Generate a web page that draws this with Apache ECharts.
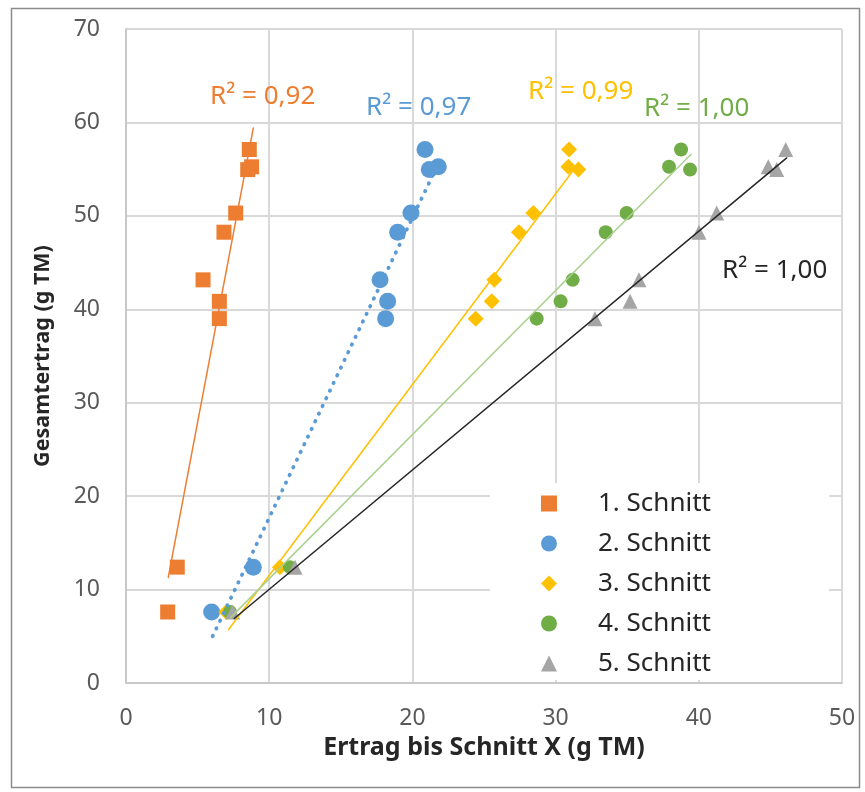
<!DOCTYPE html>
<html>
<head>
<meta charset="utf-8">
<script src="https://cdn.jsdelivr.net/npm/echarts@6/dist/echarts.min.js"></script>
<style>
html,body{margin:0;padding:0;background:#fff;}
#c{width:865px;height:792px;}
</style>
</head>
<body>
<div id="c"></div>
<script>
// ---- data ----
const seriesNames = ['1. Schnitt', '2. Schnitt', '3. Schnitt', '4. Schnitt', '5. Schnitt'];
// Gesamtertrag (g TM) – y values, shared by all cuts
const gesamtertrag = [57.1, 55.25, 54.95, 50.3, 48.25, 43.15, 40.85, 39.0, 12.4, 7.6];
// Ertrag bis Schnitt X (g TM) – x values per cut
const schnitt1 = [8.61, 8.77, 8.50, 7.66, 6.84, 5.38, 6.52, 6.52, 3.58, 2.91];
const schnitt2 = [20.88, 21.81, 21.18, 19.90, 18.97, 17.74, 18.27, 18.13, 8.89, 5.98];
const schnitt3 = [30.94, 30.89, 31.59, 28.45, 27.44, 25.72, 25.54, 24.42, 10.75, 7.0];
const schnitt4 = [38.76, 37.92, 39.39, 34.96, 33.50, 31.19, 30.35, 28.68, 11.45, 7.26];
const schnitt5 = [46.07, 44.85, 45.44, 41.25, 40.01, 35.82, 35.20, 32.75, 11.8, 7.45];
// linear trend lines (start/end points as read)
const trend1x = [2.95, 8.89],  trend1y = [11.3, 59.4];
const trend2x = [6.05, 21.81], trend2y = [5.0, 55.6];
const trend3x = [7.15, 31.59], trend3y = [5.7, 55.6];
const trend4x = [7.3, 39.46],  trend4y = [7.0, 56.6];
const trend5x = [7.56, 46.14], trend5y = [6.9, 56.2];
const r2Labels = ['R² = 0,92', 'R² = 0,97', 'R² = 0,99', 'R² = 1,00', 'R² = 1,00'];
const xTicks = [0, 10, 20, 30, 40, 50];
const yTicks = [0, 10, 20, 30, 40, 50, 60, 70];

// ---- styling ----
const colors = ['#ED7D31', '#5B9BD5', '#FFC000', '#70AD47', '#A5A5A5'];
const symbols = ['rect', 'circle', 'diamond', 'circle', 'triangle'];
const symbolSizes = [15, 17, 16, 14, 15];
const trendColors = ['#ED7D31', '#5B9BD5', '#FFC000', '#A9D18E', '#262626'];
const trendTypes = ['solid', [0.5, 8], 'solid', 'solid', 'solid'];
const trendWidths = [1.5, 3.8, 1.5, 1.5, 1.5];
const xs = [schnitt1, schnitt2, schnitt3, schnitt4, schnitt5];
const txs = [trend1x, trend2x, trend3x, trend4x, trend5x];
const tys = [trend1y, trend2y, trend3y, trend4y, trend5y];
const FONT = 'Noto Sans';

const series = [];
xs.forEach((arr, i) => {
  series.push({
    name: seriesNames[i],
    type: 'scatter',
    symbol: symbols[i],
    symbolSize: symbolSizes[i],
    itemStyle: { color: colors[i], opacity: 1 },
    data: arr.map((x, k) => [x, gesamtertrag[k]]),
    z: 2
  });
});
txs.forEach((tx, i) => {
  series.push({
    name: 'trend' + (i + 1),
    type: 'line',
    symbol: 'none',
    silent: true,
    lineStyle: { color: trendColors[i], width: trendWidths[i], type: trendTypes[i], cap: 'round' },
    data: tx.map((x, k) => [x, tys[i][k]]),
    z: 3
  });
});

const r2Pos = [[210, 97], [366, 108], [528, 92], [644, 109], [722, 271]];
const r2Colors = ['#ED7D31', '#5B9BD5', '#FFC000', '#70AD47', '#262626'];
const graphics = [
  { type: 'rect', left: 9, top: 6, shape: { width: 848, height: 779 }, style: { fill: 'none', stroke: '#8c8c8c', lineWidth: 1.5 }, silent: true }
];
r2Labels.forEach((t, i) => {
  graphics.push({ type: 'text', x: r2Pos[i][0], y: r2Pos[i][1], z: 10,
    style: { text: t, fontFamily: FONT, fontSize: 26, fill: r2Colors[i], verticalAlign: 'middle', align: 'left' } });
});

const chart = echarts.init(document.getElementById('c'), null, { renderer: 'canvas' });
chart.setOption({
  animation: false,
  backgroundColor: '#fff',
  grid: { left: 126, top: 29, right: 23, bottom: 109, containLabel: false },
  xAxis: {
    type: 'value', min: xTicks[0], max: xTicks[xTicks.length - 1], interval: 10,
    name: 'Ertrag bis Schnitt X (g TM)', nameLocation: 'middle', nameGap: 39,
    nameTextStyle: { fontFamily: FONT, fontSize: 25, fontWeight: 'bold', color: '#262626', verticalAlign: 'top' },
    axisLine: { show: true, onZero: false, lineStyle: { color: '#c8c8c8', width: 2 } },
    axisTick: { show: false },
    axisLabel: { fontFamily: FONT, fontSize: 23, color: '#595959', margin: 24 },
    splitLine: { show: true, lineStyle: { color: '#d9d9d9', width: 2 } }
  },
  yAxis: {
    type: 'value', min: yTicks[0], max: yTicks[yTicks.length - 1], interval: 10,
    name: 'Gesamtertrag (g TM)', nameLocation: 'middle', nameGap: 72, nameRotate: 90,
    nameTextStyle: { fontFamily: FONT, fontSize: 21.5, fontWeight: 'bold', color: '#262626' },
    axisLine: { show: true, onZero: false, lineStyle: { color: '#c8c8c8', width: 2 } },
    axisTick: { show: false },
    axisLabel: { fontFamily: FONT, fontSize: 23, color: '#595959', margin: 26 },
    splitLine: { show: true, lineStyle: { color: '#d9d9d9', width: 2 } }
  },
  legend: {
    data: seriesNames,
    orient: 'vertical',
    left: 490, top: 483,
    backgroundColor: '#ffffff',
    padding: [6.5, 118, 2.5, 51],
    itemWidth: 16, itemHeight: 16, itemGap: 12,
    textStyle: { fontFamily: FONT, fontSize: 26, color: '#262626', lineHeight: 28, padding: [0, 0, 0, 36] }
  },
  graphic: graphics,
  series: series
});
</script>
</body>
</html>
